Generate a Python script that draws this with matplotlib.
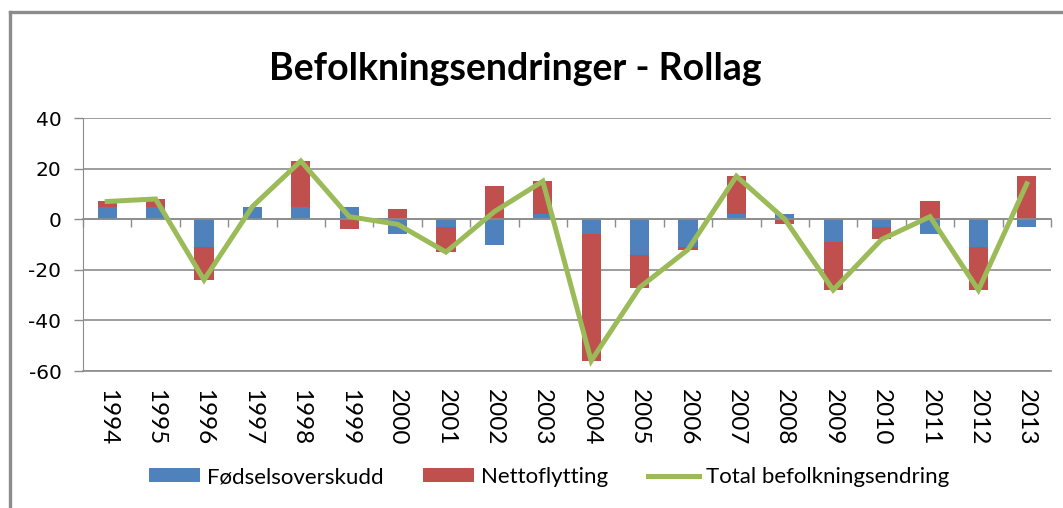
import numpy as np
import matplotlib
matplotlib.use("Agg")
import matplotlib.pyplot as plt
from matplotlib.lines import Line2D

plt.rcParams["axes.unicode_minus"] = False

# data
years = [str(y) for y in range(1994, 2014)]
fodsel = [5, 5, -11, 5, 5, 5, -6, -3, -10, 2, -6, -14, -11, 2, 2, -9, -3, -6, -11, -3]
netto = [2, 3, -13, 0, 18, -4, 4, -10, 13, 13, -50, -13, -1, 15, -2, -19, -5, 7, -17, 17]
total = [7, 8, -24, 5, 23, 1, -2, -13, 3, 15, -56, -27, -12, 17, 0, -28, -8, 1, -28, 14]

BLUE = "#4F81BD"
RED = "#C0504D"
GREEN = "#9BBB59"
GRAY = "#8C8C8C"

fig = plt.figure(figsize=(10.63, 5.08), dpi=100)
ax = fig.add_axes([83/1063, 1-371/508, (1051-83)/1063, (371-118)/508])

x = np.arange(len(years))
b = np.array(fodsel)
r = np.array(netto)
# excel stacking: positives above zero, negatives below zero
r_bottom = np.where(np.sign(r) == np.sign(b), b, 0)

hb = ax.bar(x, b, width=0.4, color=BLUE, zorder=2, label="Fødselsoverskudd")
hr = ax.bar(x, r, width=0.4, bottom=r_bottom, color=RED, zorder=2, label="Nettoflytting")
hl, = ax.plot(x, total, color=GREEN, lw=3.6, zorder=3, solid_joinstyle="miter",
              label="Total befolkningsendring")

ax.set_xlim(-0.5, len(years) - 0.5)
ax.set_ylim(-60, 40)
ax.set_yticks(range(-60, 41, 20))
ax.yaxis.grid(True, color=GRAY, lw=1.2, zorder=0)
ax.tick_params(axis="y", length=6.5, width=1, color=GRAY, pad=9, labelsize=14.5)
for t in ax.get_yticklabels():
    t.set_family("DejaVu Sans")

for s in ["top", "right"]:
    ax.spines[s].set_visible(False)
ax.spines["left"].set_color(GRAY)
ax.spines["bottom"].set_position(("data", 0))
ax.spines["bottom"].set_color(GRAY)
ax.spines["bottom"].set_linewidth(1.2)

# category boundary ticks on the zero line
ax.set_xticks(x)
ax.tick_params(axis="x", which="major", length=0, labelbottom=False)
ax.set_xticks(np.arange(-0.5, len(years)), minor=True)
ax.tick_params(axis="x", which="minor", length=5.5, width=1, color=GRAY, direction="out")

# year labels at bottom of plot area
sec = ax.secondary_xaxis(0.0)
sec.set_xticks(x)
sec.set_xticklabels(years, rotation=-90, family="Lato", fontsize=17.5)
sec.tick_params(length=0, pad=13)
sec.spines["bottom"].set_color(GRAY)
sec.spines["bottom"].set_linewidth(1.2)

fig.text(515/1063, 1-80/508, "Befolkningsendringer - Rollag", ha="center", va="baseline",
         family="Lato", weight="bold", fontsize=27)

fig.legend([hb, hr, hl], [hb.get_label(), hr.get_label(), hl.get_label()],
           loc="center", bbox_to_anchor=(549/1063, 1-477/508), ncol=3, frameon=False,
           prop={"family": "Lato", "size": 16}, handlelength=2.3, handleheight=0.55,
           handletextpad=0.3, columnspacing=1.8)

# outer chart border (cropped on the right and bottom)
fig.add_artist(Line2D([10/1063, 10/1063], [0, 1-12/508], transform=fig.transFigure,
                      color=GRAY, lw=2.4))
fig.add_artist(Line2D([10/1063, 1], [1-12/508, 1-12/508], transform=fig.transFigure,
                      color=GRAY, lw=2.4))

fig.savefig("out.png", dpi=100)
